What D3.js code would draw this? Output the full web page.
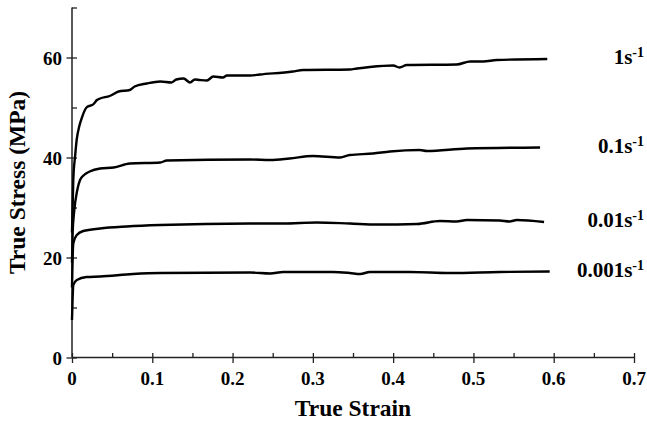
<!DOCTYPE html>
<html>
<head>
<meta charset="utf-8">
<script src="https://cdn.jsdelivr.net/npm/d3@7"></script>
<style>
  html, body { margin: 0; padding: 0; background: #fff; }
  svg { display: block; }
  .lbl { font-family: "Liberation Serif", "Times New Roman", serif; font-weight: bold; fill: #000; }
</style>
</head>
<body>
<svg id="chart" width="647" height="421"></svg>
<script>
// strain rates (s^-1) and their stress-strain curves [true strain, true stress MPa]
const rates = ["1", "0.1", "0.01", "0.001"];

const rate1 = [
  [0, 25], [0.0016, 35.5], [0.004, 40.5], [0.0058, 43.5], [0.009, 46.2], [0.012, 47.8],
  [0.018, 50.0], [0.027, 50.7], [0.031, 51.5], [0.035, 51.8], [0.047, 52.3], [0.058, 53.2],
  [0.072, 53.5], [0.078, 54.2], [0.093, 54.8], [0.110, 55.2], [0.124, 55.0], [0.130, 55.6],
  [0.139, 55.8], [0.147, 55.0], [0.153, 55.6], [0.159, 55.5], [0.168, 55.4], [0.176, 56.2],
  [0.188, 56.0], [0.193, 56.4], [0.222, 56.4], [0.234, 56.6], [0.275, 57.2], [0.288, 57.5],
  [0.346, 57.6], [0.355, 57.8], [0.371, 58.1], [0.400, 58.4], [0.408, 58.0], [0.417, 58.5],
  [0.479, 58.6], [0.496, 59.2], [0.512, 59.2], [0.529, 59.5], [0.592, 59.7]
];

const rate01 = [
  [0, 19], [0.0008, 25], [0.0025, 28.9], [0.0066, 33.5], [0.010, 35.5], [0.015, 36.5],
  [0.022, 37.2], [0.035, 37.8], [0.052, 38.0], [0.072, 38.8], [0.110, 39.0], [0.118, 39.4],
  [0.222, 39.6], [0.247, 39.5], [0.271, 39.8], [0.300, 40.3], [0.334, 40.0], [0.346, 40.5],
  [0.375, 40.8], [0.396, 41.2], [0.433, 41.5], [0.442, 41.3], [0.492, 41.8], [0.583, 42.0]
];

const rate001 = [
  [0, 14], [0.0008, 20], [0.0016, 22.8], [0.006, 24.5], [0.014, 25.3], [0.035, 25.8],
  [0.068, 26.2], [0.110, 26.5], [0.222, 26.8], [0.263, 26.8], [0.305, 27.0], [0.346, 26.8],
  [0.380, 26.6], [0.430, 26.7], [0.458, 27.3], [0.479, 27.2], [0.492, 27.5], [0.533, 27.4],
  [0.545, 27.2], [0.554, 27.5], [0.588, 27.1]
];

const rate0001 = [
  [0, 7.5], [0.0008, 12], [0.0016, 14.5], [0.006, 15.5], [0.018, 16.1], [0.035, 16.2],
  [0.076, 16.7], [0.110, 16.9], [0.222, 17.0], [0.247, 16.8], [0.263, 17.1], [0.325, 17.1],
  [0.346, 16.9], [0.359, 16.7], [0.371, 17.1], [0.421, 17.1], [0.471, 16.9], [0.533, 17.1],
  [0.595, 17.2]
];

const curves = [rate1, rate01, rate001, rate0001];

const xTicks = [0, 0.1, 0.2, 0.3, 0.4, 0.5, 0.6, 0.7];
const xMinor = [0.05, 0.15, 0.25, 0.35, 0.45, 0.55, 0.65];
const yTicks = [0, 20, 40, 60];
const yMinor = [10, 30, 50, 70];

const svg = d3.select("#chart");

const x = d3.scaleLinear([0, 0.7], [72, 634]);
const y = d3.scaleLinear([0, 70], [357.5, 7.5]);

const axisColor = "#222";

// minor ticks first (inside only)
svg.append("g")
  .attr("transform", "translate(0," + y(0) + ")")
  .call(d3.axisBottom(x).tickValues(xMinor).tickSize(-4.5).tickFormat(""))
  .call(g => g.select(".domain").remove())
  .selectAll("line").attr("stroke", axisColor).attr("stroke-width", 1.3);

svg.append("g")
  .attr("transform", "translate(" + x(0) + ",0)")
  .call(d3.axisLeft(y).tickValues(yMinor).tickSize(-5).tickFormat(""))
  .call(g => g.select(".domain").remove())
  .selectAll("line").attr("stroke", axisColor).attr("stroke-width", 1.3);

// major ticks crossing the axis, labels drawn separately
const xAxis = svg.append("g")
  .attr("transform", "translate(0," + y(0) + ")")
  .call(d3.axisBottom(x).tickValues(xTicks).tickSize(5.5).tickFormat(""));
xAxis.select(".domain").attr("stroke", axisColor).attr("stroke-width", 1.5).attr("d", "M" + x(0) + ",0H" + x(0.7));
xAxis.selectAll(".tick line").attr("y1", -4.5).attr("stroke", axisColor).attr("stroke-width", 1.3);

const yAxis = svg.append("g")
  .attr("transform", "translate(" + x(0) + ",0)")
  .call(d3.axisLeft(y).tickValues(yTicks).tickSize(5.5).tickFormat(""));
yAxis.select(".domain").attr("stroke", axisColor).attr("stroke-width", 1.5).attr("d", "M0," + y(0) + "V" + y(70));
yAxis.selectAll(".tick line").attr("x1", 5).attr("stroke", axisColor).attr("stroke-width", 1.3);

svg.append("g")
  .selectAll("text")
  .data(xTicks)
  .enter()
  .append("text")
  .attr("class", "lbl")
  .attr("x", d => x(d))
  .attr("y", y(0) + 27.5)
  .attr("text-anchor", "middle")
  .attr("font-size", 19)
  .text(d => d === 0 ? "0" : d3.format(".1f")(d));

svg.append("g")
  .selectAll("text")
  .data(yTicks)
  .enter()
  .append("text")
  .attr("class", "lbl")
  .attr("x", x(0) - 10)
  .attr("y", d => y(d) + 7)
  .attr("text-anchor", "end")
  .attr("font-size", 19)
  .text(d => d);

// curves
const line = d3.line()
  .x(d => x(d[0]))
  .y(d => y(d[1]))
  .curve(d3.curveMonotoneX);

svg.append("g")
  .selectAll("path")
  .data(curves)
  .enter()
  .append("path")
  .attr("d", line)
  .attr("fill", "none")
  .attr("stroke", "#000")
  .attr("stroke-width", 2.4)
  .attr("stroke-linejoin", "round");

// rate labels at the end of each curve
const labels = svg.append("g")
  .selectAll("text")
  .data(curves)
  .enter()
  .append("text")
  .attr("class", "lbl")
  .attr("x", 644)
  .attr("y", d => y(d[d.length - 1][1]) + 5)
  .attr("text-anchor", "end")
  .attr("font-size", 21);
labels.append("tspan").text((d, i) => rates[i] + "s");
labels.append("tspan").attr("font-size", 14).attr("dy", -7).text("-1");

// axis titles
svg.append("text")
  .attr("class", "lbl")
  .attr("x", (x(0) + x(0.7)) / 2)
  .attr("y", 416)
  .attr("text-anchor", "middle")
  .attr("font-size", 23.5)
  .text("True Strain");

svg.append("text")
  .attr("class", "lbl")
  .attr("transform", "translate(25," + (y(0) + y(70)) / 2 + ") rotate(-90)")
  .attr("text-anchor", "middle")
  .attr("font-size", 23.5)
  .text("True Stress (MPa)");
</script>
</body>
</html>
